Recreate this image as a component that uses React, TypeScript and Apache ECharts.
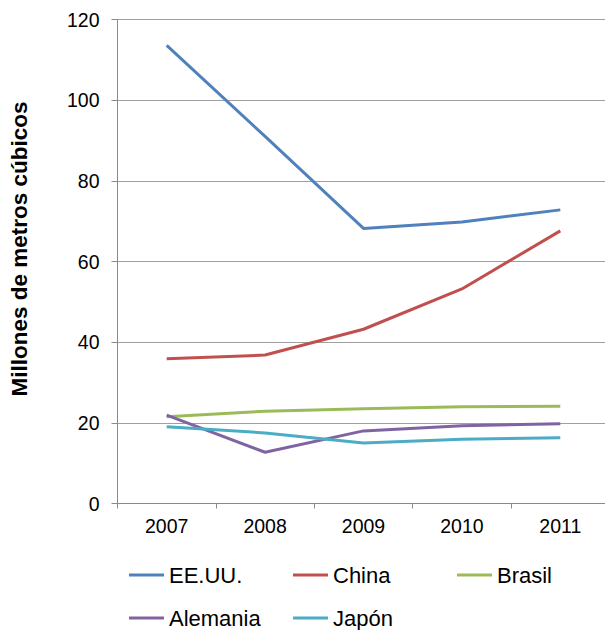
import React, { useEffect, useRef } from "react";
import * as echarts from "echarts";

const years = ["2007", "2008", "2009", "2010", "2011"];
const seriesNames = ["EE.UU.", "China", "Brasil", "Alemania", "Japón"];
const eeuu = [113.6, 91.0, 68.2, 69.8, 72.8];
const china = [35.9, 36.8, 43.2, 53.2, 67.6];
const brasil = [21.5, 22.9, 23.5, 24.0, 24.1];
const alemania = [21.9, 12.7, 18.0, 19.3, 19.8];
const japon = [19.0, 17.5, 15.0, 15.9, 16.3];
const colors = ["#4F81BD", "#C0504D", "#9BBB59", "#8064A2", "#4BACC6"];
const yTitle = "Millones de metros cúbicos";

export default function App() {
  const ref = useRef<HTMLDivElement>(null);
  useEffect(() => {
    if (!ref.current) return;
    const chart = echarts.init(ref.current, null, { renderer: "svg" });
    const values = [eeuu, china, brasil, alemania, japon];
    const legendPos = [
      { left: 129, top: 564 },
      { left: 293, top: 564 },
      { left: 457, top: 564 },
      { left: 129, top: 607 },
      { left: 293, top: 607 },
    ];
    chart.setOption({
      animation: false,
      backgroundColor: "#ffffff",
      textStyle: { fontFamily: "Liberation Sans, Arial, sans-serif" },
      grid: {
        left: 117.5,
        top: 19.5,
        width: 492,
        height: 484,
        containLabel: false,
        outerBoundsMode: "none",
      },
      legend: seriesNames.map((n, i) => ({
        data: [n],
        left: legendPos[i].left,
        top: legendPos[i].top,
        padding: 0,
        icon: "rect",
        itemWidth: 35,
        itemHeight: 3,
        itemGap: 0,
        textStyle: { fontSize: 22, color: "#000" },
      })),
      graphic: [
        {
          type: "text",
          x: 19,
          y: 249,
          rotation: Math.PI / 2,
          style: {
            text: yTitle,
            fontSize: 22.5,
            fontWeight: "bold",
            fill: "#000",
            fontFamily: "Liberation Sans, Arial, sans-serif",
            align: "center",
            verticalAlign: "middle",
          },
        },
      ],
      xAxis: {
        type: "category",
        data: years,
        boundaryGap: true,
        axisLine: { lineStyle: { color: "#8a8a8a", width: 1 } },
        axisTick: { show: true, length: 5, lineStyle: { color: "#8a8a8a" } },
        axisLabel: { fontSize: 19.5, color: "#000", margin: 12 },
      },
      yAxis: {
        type: "value",
        min: 0,
        max: 120,
        interval: 20,
        axisLine: { show: true, lineStyle: { color: "#8a8a8a", width: 1 } },
        axisTick: { show: true, length: 6, lineStyle: { color: "#8a8a8a" } },
        axisLabel: { fontSize: 19.5, color: "#000", margin: 18 },
        splitLine: { show: true, lineStyle: { color: "#a0a0a0", width: 1 } },
      },
      series: seriesNames.map((n, i) => ({
        name: n,
        type: "line",
        data: values[i],
        symbol: "none",
        color: colors[i],
        lineStyle: { width: 3, color: colors[i] },
      })),
    });
    return () => chart.dispose();
  }, []);
  return (
    <div
      ref={ref}
      style={{ position: "fixed", left: 0, top: 0, width: 605, height: 630 }}
    />
  );
}
